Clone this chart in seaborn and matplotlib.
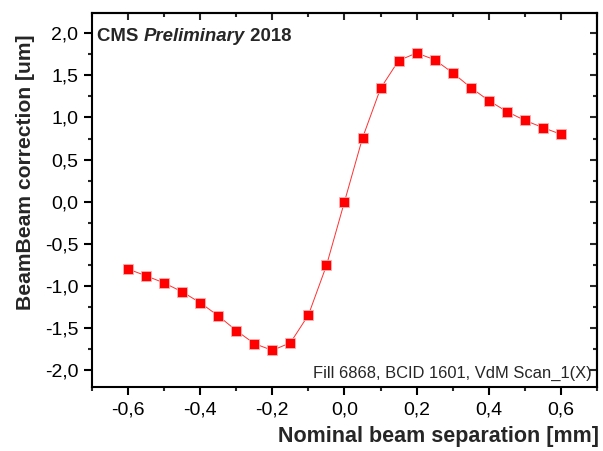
import matplotlib
matplotlib.use("Agg")
import matplotlib.pyplot as plt
from matplotlib.ticker import FuncFormatter, MultipleLocator
import seaborn as sns
import pandas as pd

separation = [-0.60, -0.55, -0.50, -0.45, -0.40, -0.35, -0.30, -0.25, -0.20, -0.15, -0.10, -0.05,
              0.00, 0.05, 0.10, 0.15, 0.20, 0.25, 0.30, 0.35, 0.40, 0.45, 0.50, 0.55, 0.60]
correction = [-0.80, -0.88, -0.965, -1.07, -1.20, -1.355, -1.53, -1.685, -1.765, -1.675, -1.345, -0.757,
              0.00, 0.757, 1.345, 1.675, 1.765, 1.685, 1.53, 1.355, 1.20, 1.07, 0.965, 0.88, 0.80]

xlabel = "Nominal beam separation [mm]"
ylabel = "BeamBeam correction [um]"
footer = "Fill 6868, BCID 1601, VdM Scan_1(X)"

sns.set_style("ticks")
plt.rcParams["font.family"] = ["Liberation Sans", "DejaVu Sans"]

df = pd.DataFrame({"x": separation, "y": correction})

fig = plt.figure(figsize=(6.03, 4.51), dpi=100)
ax = fig.add_axes([0.1526, 0.1419, 0.990 - 0.1526, 0.9712 - 0.1419])

sns.lineplot(data=df, x="x", y="y", ax=ax, color="#ff3030", linewidth=0.7,
             marker="s", markersize=7, markerfacecolor="#ff0000",
             markeredgecolor="#ffb0b0", markeredgewidth=0.6)

ax.set_xlim(-0.7, 0.7)
ax.set_ylim(-2.2, 2.24)

ax.xaxis.set_major_locator(MultipleLocator(0.2))
ax.xaxis.set_minor_locator(MultipleLocator(0.1))
ax.yaxis.set_major_locator(MultipleLocator(0.5))
ax.yaxis.set_minor_locator(MultipleLocator(0.25))

def comma(v, pos):
    s = "{:.1f}".format(v)
    if s == "-0.0":
        s = "0.0"
    return s.replace(".", ",")

ax.xaxis.set_major_formatter(FuncFormatter(comma))
ax.yaxis.set_major_formatter(FuncFormatter(comma))

for sp in ax.spines.values():
    sp.set_visible(True)
    sp.set_linewidth(1.5)
    sp.set_color("black")

ax.tick_params(which="major", direction="out", length=5.8, width=1.5, labelsize=14,
               colors="black", top=False, right=False)
ax.tick_params(axis="x", which="major", pad=4.5)
ax.tick_params(axis="y", which="major", pad=4)
ax.tick_params(which="minor", direction="out", length=3, width=1.5,
               top=False, right=False)

# inward ticks on top and right
axt = ax.secondary_xaxis("top")
axt.xaxis.set_major_locator(MultipleLocator(0.2))
axt.xaxis.set_minor_locator(MultipleLocator(0.1))
axt.tick_params(which="major", direction="in", length=5, width=1.5, labeltop=False)
axt.tick_params(which="minor", direction="in", length=3, width=1.5)
axt.spines["top"].set_linewidth(1.5)
axr = ax.secondary_yaxis("right")
axr.yaxis.set_major_locator(MultipleLocator(0.5))
axr.yaxis.set_minor_locator(MultipleLocator(0.25))
axr.tick_params(which="major", direction="in", length=5, width=1.5, labelright=False)
axr.tick_params(which="minor", direction="in", length=3, width=1.5)
axr.spines["right"].set_linewidth(1.5)

ax.set_xlabel(xlabel, fontsize=15.5, fontweight="bold")
ax.xaxis.set_label_coords(1.005, -0.105)
ax.xaxis.label.set_horizontalalignment("right")
ax.set_ylabel(ylabel, fontsize=15.2, fontweight="bold")
ax.yaxis.set_label_coords(-0.112, 0.575)

t1 = ax.annotate("CMS ", xy=(0.01, 0.936), xycoords="axes fraction", fontsize=13.4,
                 fontweight="bold", ha="left", va="center")
fig.canvas.draw()
t2 = ax.annotate("Preliminary", xy=(1, 0.5), xycoords=t1, fontsize=13.4, fontweight="bold",
                 fontstyle="italic", ha="left", va="center")
ax.annotate(" 2018", xy=(1, 0.5), xycoords=t2, fontsize=13.4, fontweight="bold",
            ha="left", va="center")

ax.text(0.99, 0.035, footer, transform=ax.transAxes, fontsize=11.9, ha="right", va="center")

fig.savefig("out.png", dpi=100)
